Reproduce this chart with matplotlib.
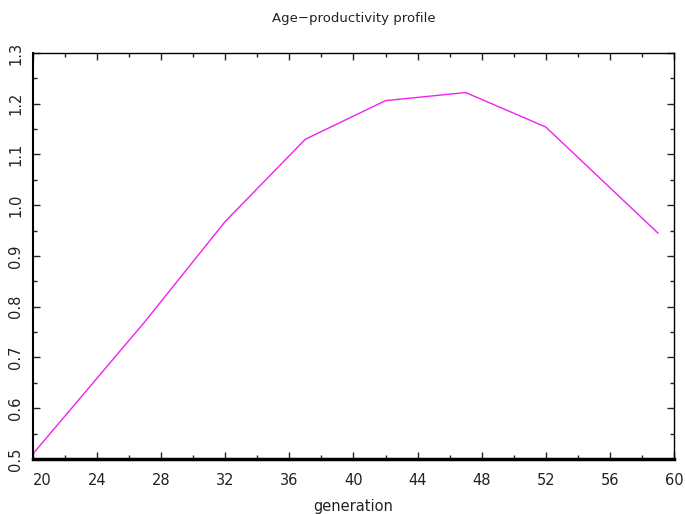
import matplotlib
matplotlib.use("Agg")
import matplotlib.pyplot as plt
from matplotlib.ticker import MultipleLocator

# values
age = [20, 27, 32, 37, 42, 47, 52, 59]
productivity = [0.51, 0.771, 0.968, 1.13, 1.206, 1.222, 1.154, 0.945]

x_ticks = [20, 24, 28, 32, 36, 40, 44, 48, 52, 56, 60]
y_ticks = [0.5, 0.6, 0.7, 0.8, 0.9, 1.0, 1.1, 1.2, 1.3]

fig = plt.figure(figsize=(6.85, 5.14), dpi=100)
ax = fig.add_axes([0.048, 0.107, 0.936, 0.79])

ax.plot(age, productivity, color="#ee22ee", lw=1.0)

ax.set_xlim(20, 60)
ax.set_ylim(0.5, 1.3)
ax.set_xticks(x_ticks)
ax.set_yticks(y_ticks)
ax.set_yticklabels(["%.1f" % v for v in y_ticks], rotation=90, va="center")
ax.xaxis.set_minor_locator(MultipleLocator(2))
ax.yaxis.set_minor_locator(MultipleLocator(0.05))

ax.tick_params(which="both", direction="in", top=True, right=True,
               labelsize=10.5, colors="#222222", width=1)
ax.tick_params(which="major", length=5)
ax.tick_params(which="minor", length=3)
ax.tick_params(axis="x", pad=10)
ax.tick_params(axis="y", pad=7)
# first x label sits right of its tick in the reference
ax.get_xticklabels()[0].set_horizontalalignment("left")

for side in ["top", "right"]:
    ax.spines[side].set_linewidth(1.0)
ax.spines["left"].set_linewidth(1.5)
ax.spines["bottom"].set_linewidth(2.5)

ax.set_xlabel("generation", fontsize=10.5, labelpad=8, color="#222222")
ax.set_title("Age\u2212productivity profile", fontsize=9.5, pad=22, color="#222222")

fig.savefig("out.png", dpi=100)
